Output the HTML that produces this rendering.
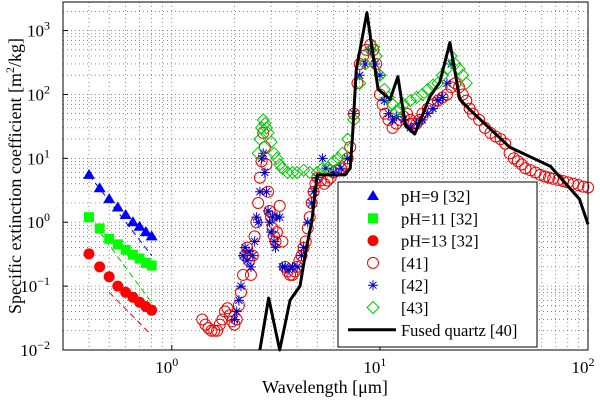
<!DOCTYPE html>
<html><head><meta charset="utf-8"><style>
body{margin:0;background:#fff}
svg{display:block;font-family:"Liberation Serif",serif}
</style></head><body>
<svg id="chart" width="600" height="402" viewBox="0 0 600 402" xmlns="http://www.w3.org/2000/svg"></svg>
<script>
const ph9X=[0.4,0.45,0.5,0.55,0.6,0.65,0.7,0.75,0.8];
const ph9Y=[5.5,3.4,2.3,1.7,1.3,1.0,0.85,0.7,0.6];
const ph11Y=[1.2,0.8,0.55,0.45,0.37,0.31,0.27,0.23,0.21];
const ph13Y=[0.32,0.2,0.14,0.1,0.08,0.067,0.056,0.048,0.042];
const fitBlueX=[0.4,0.8],fitBlueY=[5.5,0.3];
const fitGreenX=[0.45,0.8],fitGreenY=[0.7,0.055];
const fitRedX=[0.5,0.8],fitRedY=[0.08,0.017];
const r41X=[1.4,1.45,1.5,1.55,1.6,1.65,1.7,1.75,1.8,1.85,1.9,1.95,2.0,2.05,2.1,2.15,2.2,2.25,2.3,2.35,2.4,2.45,2.5,2.55,2.6,2.65,2.7,2.75,2.8,2.85,2.9,2.95,3.0,3.05,3.1,3.15,3.2,3.3,3.4,3.5,3.6,3.7,3.8,3.9,4.0,4.1,4.2,4.3,4.4,4.5,4.6,4.7,4.8,4.9,5.0,5.2,5.4,5.6,5.8,6,6.2,6.5,6.8,7,7.2,7.5,7.8,8,8.3,8.6,9,9.3,9.6,10,10.3,10.6,11,11.5,12,12.5,13,13.5,14,14.5,15,15.5,16,17,18,19,20,21,22,23,24,25,26,27,28,30,32,34,36,38,40,42,44,46,48,50,53,56,59,62,65,68,72,76,80,85,90,95,100];
const r41Y=[0.03,0.025,0.022,0.02,0.02,0.02,0.025,0.03,0.04,0.045,0.035,0.028,0.025,0.03,0.05,0.08,0.15,0.3,0.4,0.25,0.15,0.3,0.6,1.0,2,5,9,25,15,8,3,1.5,1.2,0.8,0.6,0.5,0.7,1.8,0.5,0.2,0.17,0.15,0.15,0.17,0.2,0.25,0.3,0.4,0.5,0.8,1.2,2,3,4,5,4.5,4,4.5,5,6,6.5,7,8,10,15,50,150,300,400,500,600,500,300,100,70,50,40,30,35,40,45,50,40,35,35,40,50,60,70,80,90,100,130,150,130,100,80,60,50,40,30,25,22,20,17,12,10,9,8,7,6.5,6,5.5,5.2,5,4.8,4.6,4.4,4.2,4,3.8,3.6,3.5];
const r42X=[2.0,2.05,2.1,2.15,2.2,2.25,2.3,2.35,2.4,2.45,2.5,2.55,2.6,2.65,2.7,2.75,2.8,2.85,2.9,2.95,3.0,3.05,3.1,3.15,3.2,3.3,3.4,3.5,3.65,3.8,4,4.2,4.3,4.5,4.7,4.8,5,5.3,5.5,6,6.5,7,7.5,8,8.5,9,9.5,10,10.5,11,11.5,12,13,14,15,16,17,18,19,20,21,22];
const r42Y=[0.03,0.04,0.06,0.1,0.3,0.4,0.25,0.35,0.2,0.3,0.5,1.2,1,3,10,12,6,3,1.5,1,0.7,1.2,0.5,0.4,1.2,1.2,0.2,0.2,0.18,0.2,0.2,0.3,0.4,1,2,3,5,10,7,6,7,10,50,200,300,500,300,200,80,50,40,45,40,30,35,40,50,60,80,90,150,300];
const r43X=[2.6,2.65,2.7,2.75,2.8,2.85,2.9,3.0,3.1,3.2,3.3,3.4,3.6,3.8,4,4.3,4.6,5,5.3,5.6,6,6.3,6.6,7,7.5,8,8.5,9,9.3,9.6,10,10.5,11,11.5,12,12.5,13,14,15,16,17,18,19,20,21,22,23,24,25,26];
const r43Y=[12,20,30,40,35,30,25,18,12,10,8,7,6,6,6,6.5,6,6,7,7,9,10,12,20,40,150,300,500,550,400,200,120,90,70,55,60,70,80,90,100,120,140,150,200,250,400,300,250,200,150];
const fqX=[2.65,2.92,3.3,3.7,4.13,4.45,4.7,5.0,6.8,7.2,7.4,7.7,8.66,9.8,11.2,12.2,13.3,14.7,17.4,19.4,21.7,24.2,27,42,66,91,100];
const fqY=[0.01,0.065,0.01,0.06,0.1,0.42,1.0,5.5,5.5,7,25,245,1900,120,84,190,32,24,93,155,650,84,58,15,7.5,2.3,0.93];
const xTickVals=[1,10,100],xTickLabels=["0","1","2"];
const yTickVals=[0.01,0.1,1,10,100,1000],yTickLabels=["−2","−1","0","1","2","3"];

const L=63,R=588,T=2,B=350;
const xmin=Math.log10(0.3),xmax=2,ymin=-2,ymax=Math.log10(2800);
const X=v=>L+(Math.log10(v)-xmin)/(xmax-xmin)*(R-L);
const Y=v=>B-(Math.log10(v)-ymin)/(ymax-ymin)*(B-T);
const svg=document.getElementById('chart');
const NS='http://www.w3.org/2000/svg';
function el(tag,attrs,parent){const e=document.createElementNS(NS,tag);for(const k in attrs)e.setAttribute(k,attrs[k]);(parent||svg).appendChild(e);return e;}
const grid=el('g',{});


for(let d=-1;d<=2;d++)for(let m=1;m<10;m++){const v=m*Math.pow(10,d);if(v<0.3||v>100)continue;const x=X(v);el('line',{x1:x,x2:x,y1:T,y2:B,stroke:'#444','stroke-width':0.6,'stroke-dasharray':'1,3'},grid);}
for(let d=-2;d<=3;d++)for(let m=1;m<10;m++){const v=m*Math.pow(10,d);if(v>2800)continue;const y=Y(v);el('line',{x1:L,x2:R,y1:y,y2:y,stroke:'#444','stroke-width':0.6,'stroke-dasharray':'1,3'},grid);}
xTickVals.forEach((v,i)=>{const x=X(v);el('line',{x1:x,x2:x,y1:B,y2:B-5,stroke:'#000'});
const t=el('text',{x:x-5,y:373,'font-size':17,'text-anchor':'middle'});t.textContent='10';
const s=el('tspan',{dy:-7,'font-size':12},t);s.textContent=xTickLabels[i];});
yTickVals.forEach((v,i)=>{const y=Y(v);el('line',{x1:L,x2:L+5,y1:y,y2:y,stroke:'#000'});
const t=el('text',{x:50,y:y+6,'font-size':17,'text-anchor':'end'});t.textContent='10';
const s=el('tspan',{dy:-7,'font-size':12},t);s.textContent=yTickLabels[i];});
function line(xs,ys,col,w,dash,name){const p=el('polyline',{points:xs.map((x,i)=>X(x)+','+Y(ys[i])).join(' '),fill:'none',stroke:col,'stroke-width':w,'stroke-dasharray':dash||'none','stroke-linejoin':'round'});}
function marker(type,x,y,col,g){
 if(type==='tri')el('polygon',{points:`${x},${y-6} ${x-6},${y+4} ${x+6},${y+4}`,fill:col},g);
 else if(type==='sq')el('rect',{x:x-5,y:y-5,width:10,height:10,fill:col},g);
 else if(type==='dot')el('circle',{cx:x,cy:y,r:5.5,fill:col},g);
 else if(type==='circ')el('circle',{cx:x,cy:y,r:5.5,fill:'none',stroke:col,'stroke-width':1},g);
 else if(type==='star'){const s=5;el('path',{d:`M${x-s},${y}H${x+s}M${x},${y-s}V${y+s}M${x-3.5},${y-3.5}L${x+3.5},${y+3.5}M${x-3.5},${y+3.5}L${x+3.5},${y-3.5}`,stroke:col,'stroke-width':1},g);}
 else if(type==='dia')el('polygon',{points:`${x},${y-6} ${x+6},${y} ${x},${y+6} ${x-6},${y}`,fill:'none',stroke:col,'stroke-width':1},g);}
function series(type,xs,ys,col,name){const g=el('g',{});xs.forEach((x,i)=>marker(type,X(x),Y(ys[i]),col,g));}
line(fitBlueX,fitBlueY,'#00f',1,'6,4','fit-ph9');
line(fitGreenX,fitGreenY,'#0c0',1,'6,4','fit-ph11');
line(fitRedX,fitRedY,'#e00',1,'6,4','fit-ph13');
series('circ',r41X,r41Y,'#e00','series-41');
series('star',r42X,r42Y,'#00c','series-42');
series('dia',r43X,r43Y,'#0c0','series-43');
series('tri',ph9X,ph9Y,'#00f','series-ph9');
series('sq',ph9X,ph11Y,'#0f0','series-ph11');
series('dot',ph9X,ph13Y,'#f00','series-ph13');
line(fqX,fqY,'#000',3,null,'series-fused-quartz');
el('rect',{x:L,y:T,width:R-L,height:B-T,fill:'none',stroke:'#000','stroke-width':1});
const lg=el('g',{});
el('rect',{x:338,y:182,width:199,height:165,fill:'#fff',stroke:'#000','stroke-width':1},lg);
const items=[['tri','#00f','pH=9 [32]'],['sq','#0f0','pH=11 [32]'],['dot','#f00','pH=13 [32]'],['circ','#e00','[41]'],['star','#00c','[42]'],['dia','#0c0','[43]'],['line','#000','Fused quartz [40]']];
items.forEach((it,i)=>{const y=196+i*22.3;
 if(it[0]==='line')el('line',{x1:348,x2:396,y1:y,y2:y,stroke:'#000','stroke-width':3},lg);else marker(it[0],373,y,it[1],lg);
 const t=el('text',{x:401,y:y+6,'font-size':16.5},lg);t.textContent=it[2];});
const xl=el('text',{x:325,y:393,'font-size':18,'text-anchor':'middle'});xl.textContent='Wavelength [μm]';
const yl=el('text',{x:0,y:0,'font-size':18,'text-anchor':'middle',transform:'translate(21,176) rotate(-90)'});yl.textContent='Specific extinction coefficient [m';
const sp=el('tspan',{dy:-7,'font-size':12},yl);sp.textContent='2';const sp2=el('tspan',{dy:7},yl);sp2.textContent='/kg]';
</script>
</body></html>
